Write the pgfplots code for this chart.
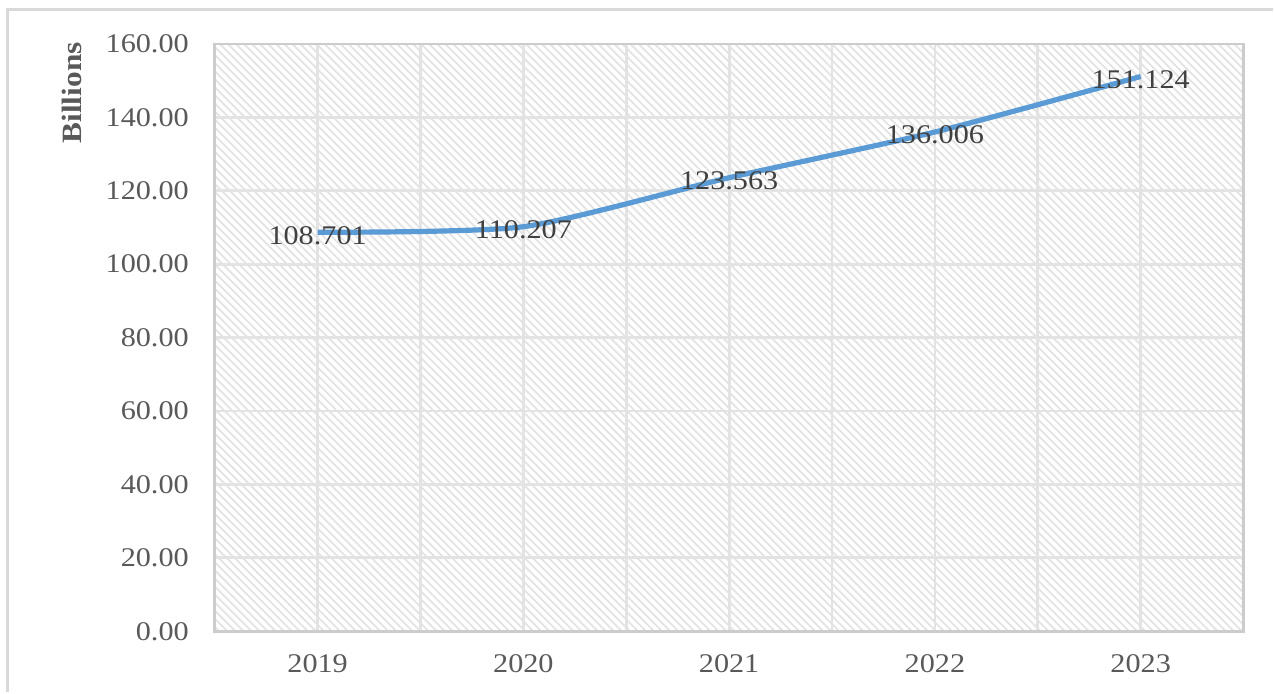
\documentclass[border=0pt]{standalone}
\usepackage{pgfplots}
\pgfplotsset{compat=1.18}
\usepackage{fontspec}
\setmainfont{Liberation Serif}[FakeStretch=1.12]
\usetikzlibrary{patterns.meta}
\definecolor{linec}{HTML}{5B9BD5}
\definecolor{gridc}{HTML}{E3E3E3}
\definecolor{framec}{HTML}{D9D9D9}
\definecolor{tickc}{HTML}{595959}
\definecolor{labc}{HTML}{404040}
\begin{document}
\begin{tikzpicture}
\path (0,0) rectangle (637pt,346.5pt);
\draw[framec, line width=1.5pt] (4pt,0) -- (4pt,341.5pt) -- (637pt,341.5pt);
\node[rotate=90, text=tickc, font=\fontsize{14}{15}\selectfont\bfseries] at (36pt,300pt) {Billions};
\begin{axis}[
  at={(107.5pt,30.5pt)}, anchor=south west,
  scale only axis, width=515pt, height=294pt,
  xmin=-0.5, xmax=4.5, ymin=0, ymax=160,
  xtick={0,1,2,3,4}, xticklabels={2019,2020,2021,2022,2023},
  minor xtick={-0.5,0.5,1.5,2.5,3.5,4.5},
  ytick={0,20,...,160},
  grid=both,
  major grid style={gridc, line width=1.4pt},
  minor grid style={gridc, line width=1.4pt},
  axis line style={gridc!90!black, line width=1.4pt},
  major tick length=0pt, minor tick length=0pt,
  tick style={draw=none},
  /pgf/number format/assume math mode=true,
  yticklabel style={/pgf/number format/.cd, fixed, fixed zerofill, precision=2, /tikz/.cd, text=tickc, xshift=-9.5pt},
  xticklabel style={text=tickc, yshift=-8pt},
  tick label style={font=\fontsize{13.5}{15}\selectfont},
  axis background/.style={pattern={Lines[angle=-45,distance=2.85pt,line width=0.9pt]}, pattern color=gray!22},
  clip=false,
]
\addplot[linec, line width=2.6pt, smooth, tension=0.4,
  nodes near coords,
  point meta=explicit symbolic,
  every node near coord/.append style={anchor=center, yshift=-1.5pt, text=labc, font=\fontsize{13.5}{15}\selectfont}]
  table[meta=lab] {
x y lab
0 108.701 108.701
1 110.207 110.207
2 123.563 123.563
3 136.006 136.006
4 151.124 151.124
};
\end{axis}
\end{tikzpicture}
\end{document}
